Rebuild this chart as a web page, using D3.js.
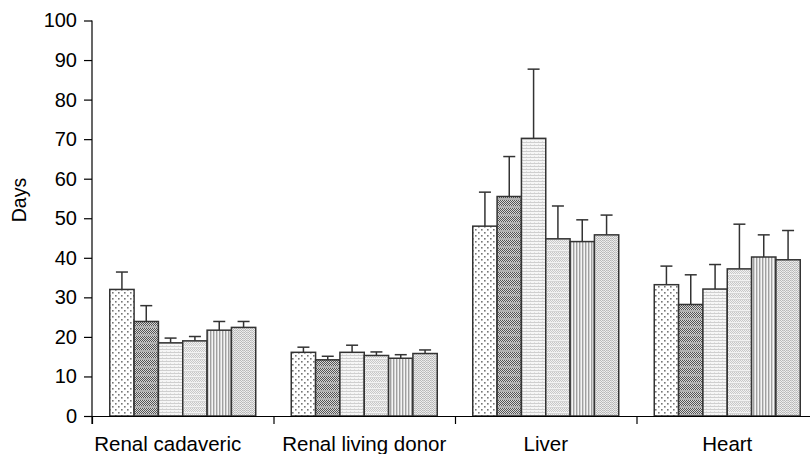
<!DOCTYPE html>
<html><head><meta charset="utf-8">
<script src="https://cdn.jsdelivr.net/npm/d3@7"></script>
<style>
html,body{margin:0;padding:0;background:#fff;}
svg{display:block;font-family:"Liberation Sans",Arial,Helvetica,sans-serif;}
</style></head>
<body>
<svg id="chart" width="810" height="454"></svg>
<script>
const categories = ["Renal cadaveric", "Renal living donor", "Liver", "Heart"];
const seriesNames = ["S1", "S2", "S3", "S4", "S5", "S6"];
// mean days per series, in category order
const s1 = [32.0, 16.1, 48.0, 33.2];
const s2 = [23.9, 14.2, 55.5, 28.2];
const s3 = [18.5, 16.1, 70.2, 32.1];
const s4 = [19.0, 15.3, 44.8, 37.2];
const s5 = [21.7, 14.6, 44.1, 40.2];
const s6 = [22.4, 15.8, 45.8, 39.5];
// upper error (SE) per series
const e1 = [4.4, 1.3, 8.6, 4.7];
const e2 = [4.0, 0.9, 10.1, 7.5];
const e3 = [1.2, 1.8, 17.5, 6.2];
const e4 = [1.1, 0.9, 8.3, 11.3];
const e5 = [2.2, 0.9, 5.5, 5.6];
const e6 = [1.5, 0.9, 5.0, 7.4];
const yTicks = [0, 10, 20, 30, 40, 50, 60, 70, 80, 90, 100];
const yLabel = "Days";

const values = [s1, s2, s3, s4, s5, s6];
const errors = [e1, e2, e3, e4, e5, e6];

const svg = d3.select("#chart");
const x0Left = 92, bandW = 181.5;
const x0 = d3.scaleBand().domain(categories).range([x0Left, x0Left + bandW * categories.length]).paddingInner(0).paddingOuter(0);
const x1 = d3.scaleBand().domain(seriesNames).range([0, x0.bandwidth()]).paddingInner(0).paddingOuter(0.73);
const y = d3.scaleLinear().domain([0, 100]).range([416, 20.5]);
const xb = d3.scaleLinear().domain([0, categories.length]).range([x0Left, x0Left + bandW * categories.length]);

// patterns
const defs = svg.append("defs");
function pat(id, w, h, draw) {
  const p = defs.append("pattern").attr("id", id).attr("patternUnits", "userSpaceOnUse").attr("width", w).attr("height", h);
  draw(p);
}
pat("p1", 6, 6, p => {
  p.append("rect").attr("width", 6).attr("height", 6).attr("fill", "#fff");
  p.append("rect").attr("x", 1).attr("y", 1).attr("width", 1.6).attr("height", 1.6).attr("fill", "#777");
  p.append("rect").attr("x", 4).attr("y", 4).attr("width", 1.6).attr("height", 1.6).attr("fill", "#777");
});
pat("p2", 4, 8, p => {
  p.append("rect").attr("width", 4).attr("height", 8).attr("fill", "#d8d8d8");
  [[0,0],[2,0],[1,1],[3,1],[0,2],[2,2],[1,3],[3,3],[0,4],[2,4],[1,5],[3,5]].forEach(([a,b]) =>
    p.append("rect").attr("x", a).attr("y", b).attr("width", 1).attr("height", 1).attr("fill", "#555"));
  p.append("rect").attr("x", 0).attr("y", 6).attr("width", 4).attr("height", 2).attr("fill", "#b0b0b0");
});
pat("p3", 4, 3, p => {
  p.append("rect").attr("width", 4).attr("height", 3).attr("fill", "#f6f6f6");
  p.append("rect").attr("y", 1).attr("width", 4).attr("height", 1).attr("fill", "#cfcfcf");
  p.append("rect").attr("x", 2).attr("y", 0).attr("width", 1).attr("height", 1).attr("fill", "#e0e0e0");
});
pat("p4", 6, 6, p => {
  p.append("rect").attr("width", 6).attr("height", 6).attr("fill", "#f2f2f2");
  [[0,0],[2,0],[4,0],[1,1],[3,1],[5,1],[0,2],[2,2],[4,2],[1,3],[3,3],[5,3]].forEach(([a,b]) =>
    p.append("rect").attr("x", a).attr("y", b).attr("width", 1).attr("height", 1).attr("fill", "#c8c8c8"));
  p.append("rect").attr("x", 0).attr("y", 5).attr("width", 6).attr("height", 1).attr("fill", "#d6d6d6");
});
pat("p5", 3, 6, p => {
  p.append("rect").attr("width", 3).attr("height", 6).attr("fill", "#d2d2d2");
  p.append("rect").attr("x", 0).attr("width", 1).attr("height", 6).attr("fill", "#a0a0a0");
  p.append("rect").attr("x", 2).attr("width", 1).attr("height", 6).attr("fill", "#f4f4f4");
});
pat("p6", 4, 4, p => {
  p.append("rect").attr("width", 4).attr("height", 4).attr("fill", "#eeeeee");
  [[0,0],[2,0],[1,1],[3,1],[0,2],[2,2],[1,3],[3,3]].forEach(([a,b]) =>
    p.append("rect").attr("x", a).attr("y", b).attr("width", 1).attr("height", 1).attr("fill", "#b8b8b8"));
  p.append("rect").attr("x", 3).attr("y", 0).attr("width", 1).attr("height", 4).attr("fill", "#d4d4d4");
});
const fills = ["url(#p1)", "url(#p2)", "url(#p3)", "url(#p4)", "url(#p5)", "url(#p6)"];

// data rows
const rows = [];
categories.forEach((c, ci) => seriesNames.forEach((s, si) => rows.push({c, s, si, v: values[si][ci], e: errors[si][ci]})));

const stroke = "#333";
const g = svg.append("g");
const capW = 12;
const eb = g.selectAll("g.err").data(rows).join("g").attr("class", "err");
eb.append("line")
  .attr("x1", d => x0(d.c) + x1(d.s) + x1.bandwidth() / 2)
  .attr("x2", d => x0(d.c) + x1(d.s) + x1.bandwidth() / 2)
  .attr("y1", d => y(d.v)).attr("y2", d => y(d.v + d.e))
  .attr("stroke", stroke).attr("stroke-width", 1.5);
eb.append("line")
  .attr("x1", d => x0(d.c) + x1(d.s) + x1.bandwidth() / 2 - capW / 2)
  .attr("x2", d => x0(d.c) + x1(d.s) + x1.bandwidth() / 2 + capW / 2)
  .attr("y1", d => y(d.v + d.e)).attr("y2", d => y(d.v + d.e))
  .attr("stroke", stroke).attr("stroke-width", 1.5);

g.selectAll("rect.bar").data(rows).join("rect").attr("class", "bar")
  .attr("x", d => x0(d.c) + x1(d.s))
  .attr("width", x1.bandwidth())
  .attr("y", d => y(d.v))
  .attr("height", d => y(0) - y(d.v))
  .attr("fill", d => fills[d.si])
  .attr("stroke", stroke).attr("stroke-width", 1.5);

// axes
const yAxis = svg.append("g").attr("transform", `translate(${x0Left},0)`)
  .call(d3.axisLeft(y).tickValues(yTicks).tickSize(8).tickSizeOuter(0).tickPadding(7));
yAxis.selectAll("text").attr("font-size", 20).attr("fill", "#000").attr("font-family", "Liberation Sans, Arial, sans-serif");
yAxis.selectAll("line,path").attr("stroke", "#000").attr("stroke-width", 1.2);
yAxis.select(".domain").attr("d", `M0,${y(0) + 8}V${y(100)}`);

const xAxis = svg.append("g").attr("transform", `translate(0,${y(0)})`)
  .call(d3.axisBottom(xb).tickValues(d3.range(categories.length + 1)).tickSize(8).tickSizeOuter(0).tickFormat(""));
xAxis.selectAll("line,path").attr("stroke", "#000").attr("stroke-width", 1.2);

svg.append("g").selectAll("text").data(categories).join("text")
  .attr("x", (d, i) => x0(d) + x0.bandwidth() / 2 + (i === 0 ? -15 : 0))
  .attr("y", 451)
  .attr("text-anchor", "middle")
  .attr("font-size", 20.5)
  .attr("fill", "#000")
  .text(d => d);

svg.append("text")
  .attr("transform", "translate(26,200) rotate(-90)")
  .attr("text-anchor", "middle")
  .attr("font-size", 19.5)
  .attr("fill", "#000")
  .text(yLabel);
</script>
</body></html>
